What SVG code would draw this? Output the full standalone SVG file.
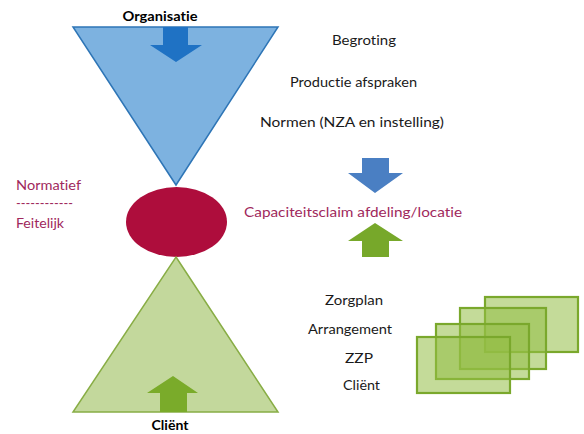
<svg xmlns="http://www.w3.org/2000/svg" width="584" height="434" viewBox="0 0 584 434">
<style>
.t{font-family:Lato,"Liberation Sans",Arial,sans-serif;font-size:14px;fill:#1a1a1a;font-variant-ligatures:none;font-feature-settings:"liga" 0}
.b{font-weight:bold;fill:#000}
.m{fill:#a0285c}
.card{fill:#93bd46;fill-opacity:0.55;stroke:#7aa82c;stroke-width:2.2}
</style>
<rect width="584" height="434" fill="#fff"/>
<g id="organisatie">
<polygon points="73,27 278,27 176,185" fill="#7db2e0" stroke="#2e75b6" stroke-width="1.5"/>
<polygon points="163,27 188,27 188,45 202,45 176,62 150,45 163,45" fill="#1f72c4"/>
<text class="t b" x="160" y="21" text-anchor="middle" textLength="75" lengthAdjust="spacingAndGlyphs">Organisatie</text>
</g>
<g id="capaciteit">
<ellipse cx="176.5" cy="222" rx="50.5" ry="35" fill="#ae0d3c"/>
</g>
<g id="client">
<polygon points="176,257 278,412 73,412" fill="#c3d89c" stroke="#88ad45" stroke-width="1.5"/>
<polygon points="160,412 187,412 187,393 198,393 173,376 147,393 160,393" fill="#7aab2a"/>
<text class="t b" x="170" y="430" text-anchor="middle" textLength="37" lengthAdjust="spacingAndGlyphs">Cliënt</text>
</g>
<g id="labels-left">
<text class="t m" x="16" y="190" textLength="65" lengthAdjust="spacingAndGlyphs">Normatief</text>
<text class="t m" x="16" y="208" textLength="57" lengthAdjust="spacingAndGlyphs">------------</text>
<text class="t m" x="16" y="228" textLength="48" lengthAdjust="spacingAndGlyphs">Feitelijk</text>
</g>
<g id="labels-top">
<text class="t" x="332" y="45" textLength="64" lengthAdjust="spacingAndGlyphs">Begroting</text>
<text class="t" x="290" y="87" textLength="127" lengthAdjust="spacingAndGlyphs">Productie afspraken</text>
<text class="t" x="260" y="127" textLength="184" lengthAdjust="spacingAndGlyphs">Normen (NZA en instelling)</text>
</g>
<g id="claim">
<polygon points="362,158 389,158 389,173 403,173 375,193 348,173 362,173" fill="#4a7fc3"/>
<text class="t m" x="244" y="217" textLength="218" lengthAdjust="spacingAndGlyphs">Capaciteitsclaim  afdeling/locatie</text>
<polygon points="362,257 389,257 389,241 403,241 375,223 348,241 362,241" fill="#77a82a"/>
</g>
<g id="labels-bottom">
<text class="t" x="325" y="305" textLength="58" lengthAdjust="spacingAndGlyphs">Zorgplan</text>
<text class="t" x="308" y="334" textLength="84" lengthAdjust="spacingAndGlyphs">Arrangement</text>
<text class="t" x="345" y="363" textLength="28" lengthAdjust="spacingAndGlyphs">ZZP</text>
<text class="t" x="343" y="390" textLength="37" lengthAdjust="spacingAndGlyphs">Cliënt</text>
</g>
<g id="cards">
<rect class="card" x="485" y="297" width="93" height="55"/>
<rect class="card" x="460" y="308" width="86" height="61"/>
<rect class="card" x="436" y="324" width="93" height="55"/>
<rect class="card" x="417" y="337" width="93" height="56"/>
</g>
<g id="connectors"></g>
</svg>
